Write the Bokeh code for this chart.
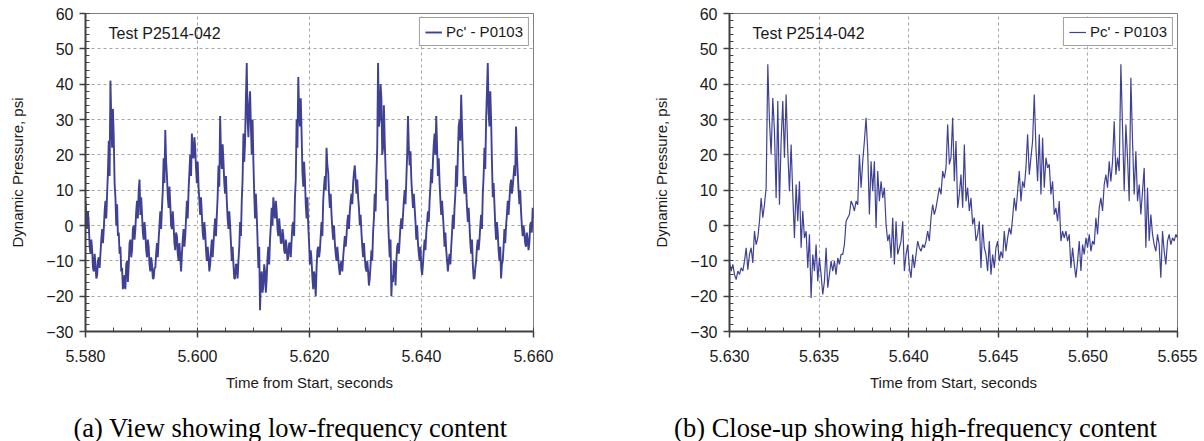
import numpy as np
from bokeh.plotting import figure
from bokeh.layouts import row, column
from bokeh.models import Range1d, NumeralTickFormatter, FixedTicker, Label
from bokeh.core.properties import value
from bokeh.embed import file_html
from bokeh.resources import INLINE

SERIES_NAME = "Pc' - P0103"
TEST_ID = "Test P2514-042"
X_LABEL = "Time from Start, seconds"
Y_LABEL = "Dynamic Pressure, psi"
CAPTIONS = ["(a) View showing low-frequency content",
            "(b) Close-up showing high-frequency content"]

y_ticks = [-30, -20, -10, 0, 10, 20, 30, 40, 50, 60]

left_t_start, left_t_end = 5.580, 5.660
left_x_ticks = [5.580, 5.600, 5.620, 5.640, 5.660]
right_t_start, right_t_end = 5.630, 5.655
right_x_ticks = [5.630, 5.635, 5.640, 5.645, 5.650, 5.655]

# Panel (a): pressure (one edge of the dense trace), 5.580 .. 5.620 s
left_psi_part1 = [
    7, -1, 0, -8, -7, -13, -11, -14, -9, -8, -1, -1, 7, 9, 24, 41, 22, 25, 8, 6,
    -2, -6, -12, -17, -18, -10, -11, -4, -7, 0, -1, 7, 10, 3, 3, -4, -2, -9, -6, -13,
    -11, -15, -12, -5, -4, 4, 5, 19, 27, 14, 5, 6, -1, 0, -7, -3, -10, -9, -8, -1,
    -3, 7, 10, 20, 26, 19, 22, 12, 11, 3, 3, -4, -2, -10, -9, -11, -4, -5, 2, 3,
    17, 31, 16, 18, 9, 7, -1, 0, -10, -11, -15, -11, -10, 1, 7, 26, 24, 46, 25, 38,
    20, 18, 2, 3, -12, -24, -13, -17, -13, -15, -6, -4, 5, 8, 2, 4, -3, -1, -5, -3,
    -8, -6, -9, -5, -4, 1, 8, 30, 42, 28, 26, 11, 13, 2,
]
# Panel (a): other edge of the dense trace at the same instants, 5.580 .. 5.620 s
left_psi_edge1 = [
    2, 4, -6, -4, -12, -8, -15, -10, -12, -4, -5, 4, 2, 15, 14, 30, 33, 12, 0, -3,
    -8, -13, -18, -14, -11, -16, -5, -9, -1, -4, 4, 2, 13, 8, -2, 1, -7, -4, -11, -9,
    -15, -12, -8, -9, 0, -1, 10, 12, 18, 8, 11, 0, 4, -5, -2, -8, -5, -13, -4, -6,
    2, 2, 15, 14, 20, 25, 16, 18, 7, 8, -2, 1, -7, -6, -13, -7, -9, -1, -3, 8,
    11, 20, 23, 12, 14, 2, 4, -5, -6, -15, -11, -15, -6, -3, 13, 18, 36, 30, 34, 28,
    30, 9, 9, -4, -6, -15, -19, -11, -19, -9, -11, 0, 0, 4, 7, -1, 2, -5, -1, -7,
    -4, -10, -5, -9, 0, -3, 13, 22, 32, 36, 15, 18, 6, 8,
]
# Panel (a): 5.620 .. 5.660 s
left_psi_part2 = [
    0, -11, -10, -18, -15, -12, -6, -7, 1, 7, 14, 22, 15, 5, 3, -4, -5, -10, -9, -14,
    -10, -9, -3, -3, 3, 4, 9, 12, 17, 9, 8, 0, -2, -9, -9, -13, -13, -15, -7, -2,
    9, 14, 46, 30, 36, 22, 24, 7, 2, -9, -20, -16, -11, -10, -5, -4, 2, 3, 10, 13,
    31, 17, 13, 5, 5, -4, -5, -10, -12, -11, -4, -2, 4, 7, 16, 18, 26, 31, 14, 12,
    3, 3, -6, -7, -13, -8, -6, 3, 5, 17, 20, 30, 37, 20, 9, 10, 1, 0, -8, -11,
    -15, -10, -4, -4, 3, 9, 22, 30, 46, 28, 30, 8, 6, -4, -2, -10, -15, -10, -1, 0,
    7, 7, 13, 11, 17, 28, 15, 6, 4, -3, -2, -6, -4, -5, 1, 5,
]
left_psi_edge2 = [
    -5, -7, -15, -13, -20, -7, -9, -3, -3, 11, 10, 17, 9, 9, -1, 0, -8, -6, -12, -11,
    -13, -6, -6, 1, -1, 7, 6, 15, 13, 13, 5, 3, -6, -5, -12, -10, -17, -11, -10, 2,
    4, 22, 28, 40, 20, 34, 16, 13, -4, -4, -14, -10, -17, -6, -8, 0, -1, 7, 6, 20,
    22, 21, 9, 9, 1, 0, -8, -6, -14, -7, -7, 1, 1, 11, 12, 23, 20, 22, 19, 7,
    7, -1, -2, -10, -10, -11, -2, -1, 9, 11, 28, 24, 28, 12, 14, 5, 5, -5, -4, -15,
    -12, -6, -7, 0, -1, 14, 16, 38, 32, 38, 18, 12, 0, 1, -7, -6, -11, -6, -5, 3,
    3, 11, 9, 14, 14, 20, 10, 10, 0, 0, -5, -2, -7, 0, -2, 2,
]

# Panel (b): close-up, 5.630 .. 5.6425 s
right_psi_part1 = [
    -10.6, -12.9, -11, -13.9, -15.3, -12.9, -13.9, -12, -12.9, -10.1,
    -6.3, -12.5, -8.2, -6.3, -10.6, -1.6, -5.4, -3.5, 1.2, 7.8,
    2.2, 5.9, 10.7, 45.6, 29.5, 20.1, 36.1, 26.7, 7.8, 35.2,
    5.9, 23.9, 35.2, 19.2, 37.1, 21, 9.7, 22.9, 8.8, -3.5,
    11.6, 1.2, 12.5, -6.3, 4.1, -3.5, -1.6, -12, -2.5, -20.5,
    -8.2, -12.9, -5.4, -15.8, -9.2, -13.9, -19.5, -15.8, -6.3, -17.6,
    -13.9, -10.1, -12.9, -10.1, -13.9, -9.2, -11, -8.2, -8.2, -5.4,
    1.2, 2.2, 3.1, 6.9, 5.9, 4.1, 6.9, 5.9, 20.1, 10.7,
    18.2, 23.9, 30.5, 21, 3.1, 18.2, 9.7, 18.2, -0.7, 15.4,
    6.9, 12.5, 7.8, 10.7, 0.3, -4.4, -2.5, -9.2, 2.2, -11,
    1.2, -8.2, -6.3, -4.4, 1.2, -12.9, -8.2, -5.4, -12, -14.8,
    -8.2, -12, -8.2, -4.4, -6.3, -7.3, -5.4, -6.3, -4.4, -1.6,
    -4.4, 2.2, 5.9, 3.1, 5, 7.8, 10.7, 8.8, 15.4, 13.4,
    16.3, 28.6, 17.3, 19.2,
]
# Panel (b): 5.6425 .. 5.655 s
right_psi_part2 = [
    30.5, 12.5, 23.9, 5, 8.8, 14.4, 5, 22.9, 6.9, 10.7,
    4.1, 7.8, 0.3, 2.2, -4.4, -2.5, 1.2, -12, 0.3, -6.3,
    -8.2, -12.9, -4.4, -13.9, -8.2, -12, -6.3, -4.4, -10.1, -7.3,
    -9.2, -1.6, -7.3, -3.5, -0.7, -2.5, 2.2, 7.8, 4.1, 9.7,
    15.4, 6.9, 12.5, 10.7, 16.3, 25.8, 14.4, 19.2, 23.9, 37.1,
    22, 12.5, 25.8, 8.8, 24.8, 10.7, 19.2, 16.3, 17.3, 8.8,
    12.5, 3.1, 5, 1.2, 6.9, -4.4, -1.6, -3.5, -1.6, -4.4,
    -2.5, -12, -6.3, -11, -14.8, -10.1, -4.4, -12.9, -5.4, -8.2,
    -3.5, -6.3, -2.5, -7.3, -4.4, -5.4, 2.2, -2.5, 5, 7.8,
    4.1, 11.6, 14.4, 10.7, 18.2, 12.5, 18.2, 29.5, 14.4, 19.2,
    15.4, 45.6, 27.6, 9.7, 28.6, 19.2, 6.9, 41.8, 23.9, 8.8,
    21, 6.9, 11.6, 3.1, 9.7, 16.3, -6.3, 10.7, -4.4, 3.1,
    -2.5, -5.4, -7.3, -2.5, -5.4, -14.8, -1.6, -7.3, -11, -4.4,
    -2.5, -5.4, -3.5, -4.4, -2.5, -3.5,
]

LINE_COLOR = "#2a2d88"
FONT = "Liberation Sans"
AXIS_COLOR = "#404040"
PANEL_W, PANEL_H = 602, 400
CAPTION_H = 441 - PANEL_H
FRAME_W, FRAME_H = 448, 318
FRAME_TOP = 13


def make_panel(t0, t1, xticks, n_minor_x, psi, border_left, border_right, lw, alpha):
    p = figure(width=PANEL_W, height=PANEL_H, output_backend="svg", toolbar_location=None,
               x_range=Range1d(t0, t1), y_range=Range1d(-30, 60),
               min_border_left=border_left, min_border_right=border_right,
               min_border_top=FRAME_TOP,
               min_border_bottom=PANEL_H - FRAME_TOP - FRAME_H)
    p.background_fill_color = "white"
    p.border_fill_color = "white"
    p.outline_line_color = "#7f7f7f"
    p.outline_line_width = 1

    t = np.linspace(t0, t1, len(psi))
    p.line(t, psi, line_color=LINE_COLOR, line_width=lw, line_alpha=alpha,
           legend_label=SERIES_NAME)

    p.xaxis.ticker = FixedTicker(ticks=xticks,
                                 minor_ticks=list(np.linspace(t0, t1, n_minor_x)))
    p.yaxis.ticker = FixedTicker(ticks=y_ticks, minor_ticks=list(range(-30, 61, 2)))
    p.xaxis.formatter = NumeralTickFormatter(format="0.000")
    p.xaxis.axis_label = X_LABEL
    p.yaxis.axis_label = Y_LABEL

    for ax in (p.xaxis[0], p.yaxis[0]):
        ax.axis_line_color = AXIS_COLOR
        ax.axis_line_width = 2
        ax.major_tick_line_color = AXIS_COLOR
        ax.major_tick_line_width = 1.5
        ax.major_tick_out = 6
        ax.major_tick_in = 0
        ax.minor_tick_line_color = AXIS_COLOR
        ax.minor_tick_line_width = 1
        ax.minor_tick_in = 4
        ax.minor_tick_out = 0
        ax.major_label_text_font = FONT
        ax.major_label_text_font_size = "16px"
        ax.major_label_text_color = "#1a1a1a"
        ax.axis_label_text_font = FONT
        ax.axis_label_text_font_size = "15px"
        ax.axis_label_text_font_style = "normal"
        ax.axis_label_text_color = "#1a1a1a"
    p.xaxis.major_label_standoff = 12
    p.xaxis.axis_label_standoff = 9
    p.yaxis.major_label_standoff = 6
    p.yaxis.axis_label_standoff = 17

    for g in (p.xgrid[0], p.ygrid[0]):
        g.grid_line_color = "#a6a6a6"
        g.grid_line_dash = "3 3"
        g.grid_line_width = 1

    p.legend.location = "top_right"
    p.legend.margin = 4
    p.legend.padding = 5
    p.legend.spacing = 0
    p.legend.glyph_width = 17
    p.legend.glyph_height = 14
    p.legend.label_height = 14
    p.legend.label_standoff = 4
    p.legend.label_text_font = FONT
    p.legend.label_text_font_size = "15px"
    p.legend.label_text_color = "#1a1a1a"
    p.legend.border_line_color = AXIS_COLOR
    p.legend.border_line_width = 1
    p.legend.background_fill_alpha = 1

    sx = (t1 - t0) / FRAME_W   # seconds per pixel
    sy = 90 / FRAME_H          # psi per pixel
    p.add_layout(Label(x=t0 + 23 * sx, y=60 - 20 * sy,
                       text=TEST_ID, text_font=FONT, text_font_size="16px",
                       text_color="#1a1a1a", text_baseline="alphabetic"))
    return p


# interleave the two read edges of the dense trace of panel (a)
left_a = left_psi_part1 + left_psi_part2
left_b = left_psi_edge1 + left_psi_edge2
left_psi = [v for pair in zip(left_a, left_b) for v in pair]
right_psi = right_psi_part1 + right_psi_part2

pa = make_panel(left_t_start, left_t_end, left_x_ticks, 17, left_psi, 85, 69, 1.9, 0.9)
pb = make_panel(right_t_start, right_t_end, right_x_ticks, 26, right_psi, 127, 27, 1.2, 0.9)

# caption strip under the two panels (pixel coordinates of the strip)
cap = figure(width=1204, height=CAPTION_H, output_backend="svg", toolbar_location=None,
             x_range=Range1d(0, 1204), y_range=Range1d(0, CAPTION_H),
             x_axis_type=None, y_axis_type=None,
             min_border_left=0, min_border_right=0, min_border_top=0, min_border_bottom=0)
cap.outline_line_color = None
cap.grid.visible = False
cap.background_fill_color = "white"
cap.border_fill_color = "white"
cap_centers = [85 + 205, PANEL_W + 127 + 186]
cap.text(x=cap_centers, y=[CAPTION_H - 27, CAPTION_H - 27], text=CAPTIONS,
         text_font=value("Liberation Serif"), text_font_size="26.5px",
         text_color="#000000", text_align="center", text_baseline="middle")

layout = column(row(pa, pb), cap)
open("out.html", "w").write(file_html(layout, INLINE))
